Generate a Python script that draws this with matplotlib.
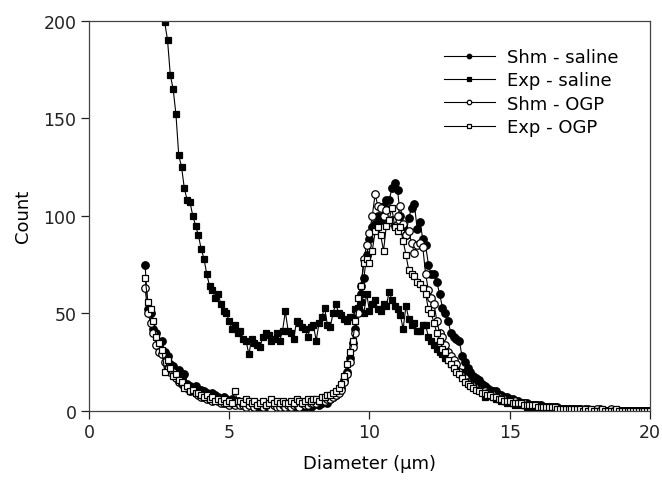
import numpy as np
import matplotlib.pyplot as plt

plt.rcParams["font.family"] = ["DejaVu Sans"]

# size bins (um), 0.1 um steps
diameter = np.round(np.arange(2.0, 20.01, 0.1), 1)

shm_saline = [
    75, 52, 50, 42, 40, 33, 36, 30, 28, 24,
    23, 20, 21, 17, 19, 14, 13, 12, 13, 10,
    11, 10, 9, 8, 9, 8, 7, 6, 7, 6,
    5, 6, 4, 5, 4, 4, 3, 3, 3, 2,
    1, 2, 3, 2, 1, 2, 2, 3, 1, 2,
    2, 3, 2, 2, 3, 2, 3, 2, 3, 2,
    3, 4, 3, 4, 5, 4, 6, 7, 8, 10,
    12, 16, 20, 27, 35, 42, 52, 60, 68, 80,
    88, 94, 96, 100, 98, 105, 108, 108, 114, 117,
    113, 100, 95, 90, 99, 104, 106, 93, 97, 88,
    85, 75, 70, 70, 66, 60, 53, 50, 46, 40,
    38, 37, 36, 28, 25, 22, 20, 18, 17, 16,
    14, 13, 12, 11, 10, 10, 8, 8, 7, 7,
    6, 6, 5, 5, 4, 4, 4, 3, 3, 3,
    3, 3, 2, 2, 2, 2, 2, 2, 1, 1,
    1, 1, 1, 1, 1, 1, 0, 1, 0, 0,
    0, 0, 1, 0, 0, 0, 0, 0, 0, 0,
    0, 0, 0, 0, 0, 0, 0, 0, 0, 0,
    0,
]

# starts at 2.6 um (first points run off the top of the axes)
exp_saline = [
    215, 199, 190, 172,
    165, 152, 131, 125, 114, 108, 107, 100, 95, 90,
    83, 78, 70, 64, 62, 58, 60, 55, 51, 50,
    46, 42, 44, 40, 41, 37, 36, 29, 37, 35,
    34, 33, 38, 40, 39, 36, 37, 40, 36, 41,
    51, 41, 40, 37, 46, 45, 43, 42, 38, 43,
    44, 36, 45, 48, 53, 44, 43, 50, 55, 50,
    49, 47, 46, 48, 48, 52, 53, 56, 50, 60,
    51, 55, 57, 52, 51, 55, 54, 61, 57, 54,
    52, 49, 42, 54, 47, 44, 45, 41, 41, 44,
    44, 38, 36, 34, 32, 30, 29, 27, 26, 24,
    23, 22, 20, 20, 18, 17, 16, 15, 14, 12,
    10, 7, 9, 8, 7, 6, 6, 5, 5, 4,
    5, 4, 3, 4, 3, 3, 2, 3, 2, 2,
    2, 2, 1, 2, 1, 1, 1, 1, 0, 1,
    1, 0, 1, 0, 0, 1, 0, 0, 0, 0,
    0, 0, 0, 0, 0, 0, 0, 0, 0, 0,
    0, 0, 0, 0, 0, 0, 0, 0, 0, 0,
    0,
]

shm_ogp = [
    63, 50, 45, 40, 34, 30, 29, 25, 22, 20,
    20, 17, 15, 14, 13, 12, 10, 11, 9, 8,
    7, 7, 6, 6, 5, 6, 5, 4, 4, 5,
    3, 4, 3, 4, 3, 3, 2, 3, 4, 2,
    3, 3, 2, 3, 2, 1, 3, 2, 2, 3,
    2, 3, 2, 3, 3, 2, 4, 3, 3, 4,
    4, 4, 5, 5, 5, 6, 6, 7, 8, 9,
    11, 15, 19, 25, 33, 40, 50, 64, 78, 85,
    91, 100, 111, 105, 104, 100, 103, 97, 98, 95,
    100, 105, 96, 90, 92, 86, 81, 85, 86, 84,
    70, 62, 58, 55, 46, 40, 38, 34, 30, 28,
    26, 24, 20, 18, 17, 15, 14, 13, 12, 11,
    10, 10, 9, 8, 8, 7, 7, 6, 6, 5,
    5, 5, 5, 4, 4, 4, 3, 3, 3, 3,
    2, 2, 2, 2, 2, 2, 1, 1, 1, 1,
    1, 1, 1, 1, 0, 1, 0, 0, 1, 0,
    0, 1, 0, 0, 0, 0, 1, 0, 0, 0,
    0, 0, 0, 0, 0, 0, 0, 0, 0, 0,
    0,
]

exp_ogp = [
    68, 56, 52, 46, 38, 35, 31, 20, 26, 22,
    18, 19, 16, 15, 12, 13, 10, 11, 9, 9,
    8, 7, 8, 6, 7, 5, 6, 5, 6, 4,
    5, 4, 10, 5, 5, 4, 6, 5, 4, 5,
    3, 4, 5, 3, 4, 6, 4, 5, 4, 5,
    4, 4, 5, 4, 6, 5, 4, 5, 6, 5,
    6, 6, 5, 7, 7, 8, 8, 9, 10, 12,
    14, 18, 24, 30, 36, 46, 58, 64, 76, 78,
    76, 82, 92, 94, 90, 82, 95, 98, 104, 94,
    92, 94, 87, 80, 72, 70, 69, 66, 65, 63,
    60, 52, 50, 45, 40, 36, 32, 30, 26, 24,
    22, 20, 19, 17, 15, 14, 13, 12, 11, 10,
    9, 9, 8, 8, 7, 7, 6, 6, 5, 5,
    5, 4, 4, 4, 4, 3, 3, 3, 3, 3,
    2, 2, 2, 2, 2, 2, 2, 1, 1, 1,
    1, 1, 1, 1, 1, 1, 0, 1, 0, 1,
    0, 0, 0, 1, 0, 0, 0, 0, 1, 0,
    0, 0, 0, 0, 0, 0, 0, 0, 0, 0,
    0,
]

fig = plt.figure(figsize=(6.62, 4.81), dpi=100)
ax = fig.add_axes([0.1344, 0.1435, 0.8475, 0.8118])

line_kw = dict(color="black", lw=0.8, mec="black", mew=0.9)
ax.plot(diameter, shm_saline, marker="o", ms=5.4, mfc="black", label="Shm - saline", **line_kw)
ax.plot(diameter[6:], exp_saline, marker="s", ms=4.8, mfc="black", label="Exp - saline", **line_kw)
ax.plot(diameter, shm_ogp, marker="o", ms=5.4, mfc="white", label="Shm - OGP", **line_kw)
ax.plot(diameter, exp_ogp, marker="s", ms=4.8, mfc="white", label="Exp - OGP", **line_kw)

ax.set_xlim(0, 20)
ax.set_ylim(0, 200)
ax.set_xticks([0, 5, 10, 15, 20])
ax.set_yticks([0, 50, 100, 150, 200])
ax.tick_params(direction="out", length=6, width=0.9, labelsize=12.5, colors="#222222", pad=3)
for s in ax.spines.values():
    s.set_linewidth(0.9)
    s.set_color("#444444")

ax.set_xlabel("Diameter (\u03bcm)", fontsize=13, labelpad=9)
ax.set_ylabel("Count", fontsize=13, labelpad=8)

ax.legend(loc="upper left", bbox_to_anchor=(0.633, 0.93), frameon=False,
          fontsize=13, handlelength=2.8, handletextpad=0.7, labelspacing=0.3,
          borderpad=0, borderaxespad=0, markerscale=0.6)

plt.savefig("out.png", dpi=100)
